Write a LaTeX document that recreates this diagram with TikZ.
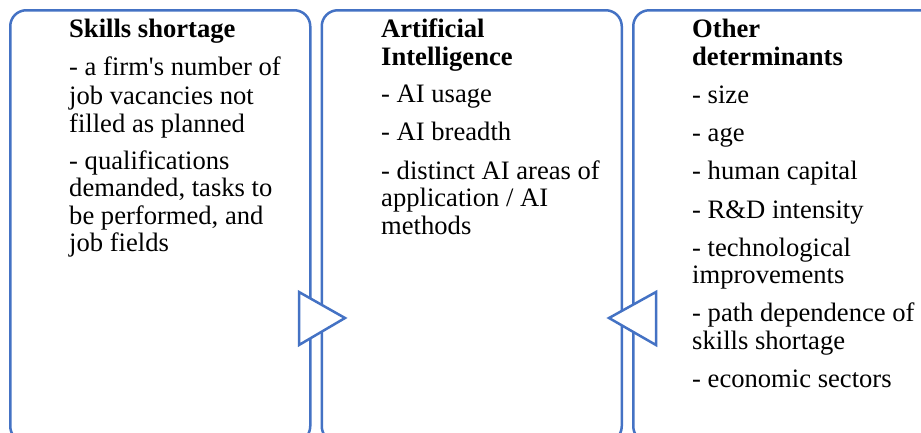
\documentclass[tikz,border=0pt]{standalone}
\usepackage{fontspec}
\setmainfont{Liberation Serif}[Ligatures=TeXOff]
\definecolor{boxblue}{HTML}{4472C4}
\tikzset{
  box/.style={draw=boxblue, line width=2.5pt, rounded corners=16pt, fill=white, inner sep=0pt, anchor=north west},
  tri/.style={draw=boxblue, line width=2.5pt, fill=white, line join=miter},
  txt/.style={anchor=base west, inner sep=0pt, font=\fontsize{26.6}{27.5}\selectfont},
  ttl/.style={txt, font=\fontsize{26.6}{27.5}\selectfont\bfseries}
}
\begin{document}
\begin{tikzpicture}[x=1pt, y=-1pt]
\useasboundingbox (0,0) rectangle (921,432);
% boxes
\node[box, minimum width=300pt, minimum height=432pt] (b1) at (9,9) {};
\node[box, minimum width=300pt, minimum height=432pt] (b2) at (320.5,9) {};
\node[box, minimum width=310pt, minimum height=432pt] (b3) at (632,9) {};
% triangles
\draw[tri] (299,292) -- (345,318) -- (299,345) -- cycle;
\draw[tri] (656,292) -- (609,318) -- (656,345) -- cycle;
% box 1 text
\node[ttl] (t1) at (69,37) {Skills shortage};
\node[txt] (t1a) at (69,75) {- a firm's number of};
\node[txt] (t1b) at (69,104) {job vacancies not};
\node[txt] (t1c) at (69,132) {filled as planned};
\node[txt] (t1d) at (69,169) {- qualifications};
\node[txt] (t1e) at (69,196.5) {demanded, tasks to};
\node[txt] (t1f) at (69,224) {be performed, and};
\node[txt] (t1g) at (69,251) {job fields};
% box 2 text
\node[ttl] (t2) at (381,37) {Artificial};
\node[ttl] (t2x) at (381,65) {Intelligence};
\node[txt] (t2a) at (381,102) {- AI usage};
\node[txt] (t2b) at (381,140) {- AI breadth};
\node[txt] (t2c) at (381,179) {- distinct AI areas of};
\node[txt] (t2d) at (381,206.5) {application / AI};
\node[txt] (t2e) at (381,234) {methods};
% box 3 text
\node[ttl] (t3) at (692,37.5) {Other};
\node[ttl] (t3x) at (692,65) {determinants};
\node[txt] (t3a) at (692,103) {- size};
\node[txt] (t3b) at (692,141) {- age};
\node[txt] (t3c) at (692,179.5) {- human capital};
\node[txt] (t3d) at (692,218) {- R\&D intensity};
\node[txt] (t3e) at (692,256) {- technological};
\node[txt] (t3f) at (692,283.5) {improvements};
\node[txt] (t3g) at (692,321.5) {- path dependence of};
\node[txt] (t3h) at (692,349) {skills shortage};
\node[txt] (t3i) at (692,387.5) {- economic sectors};
\end{tikzpicture}
\end{document}
